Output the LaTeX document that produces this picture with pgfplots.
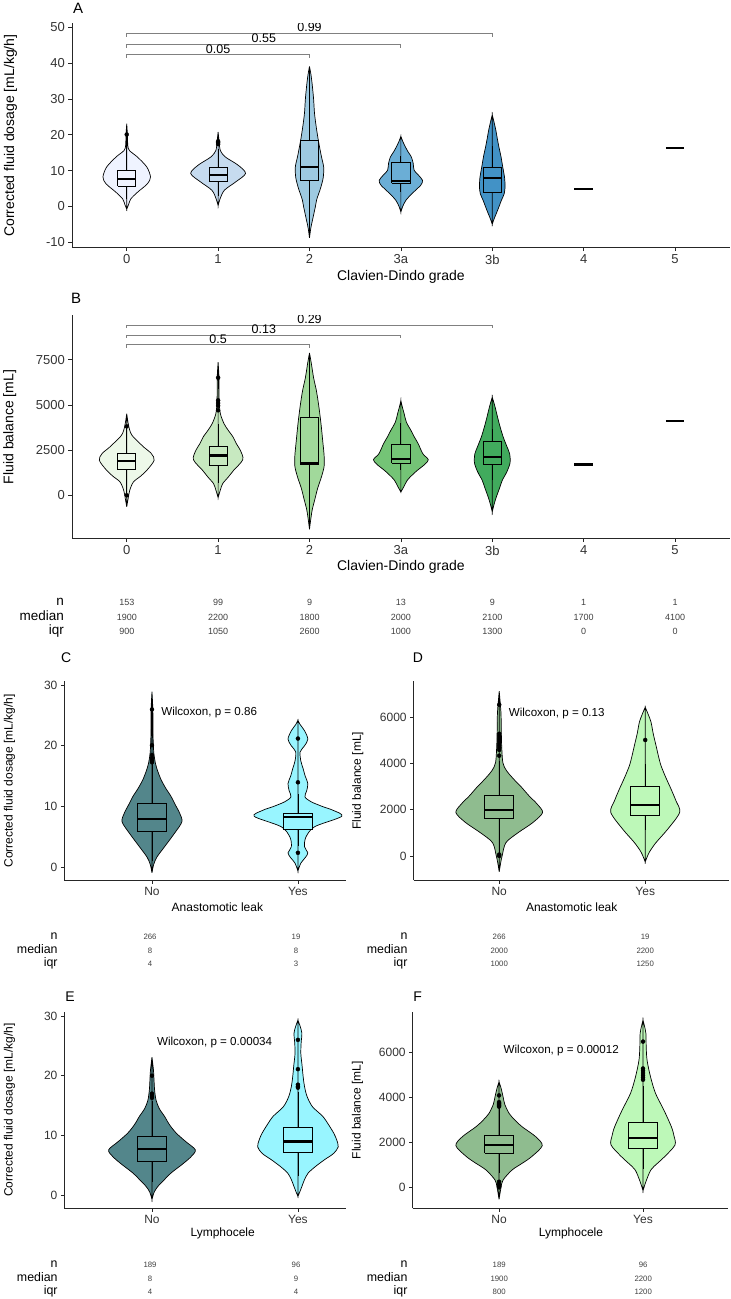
\documentclass[border=0pt]{standalone}
\usepackage{fontspec}
\setmainfont{Liberation Sans}
\usepackage{pgfplots}
\pgfplotsset{compat=1.18}
\usepgfplotslibrary{fillbetween}
\usepackage{pgfplotstable}

\newcommand{\fs}[1]{\fontsize{#1}{#1}\selectfont}

% Blues for panel A, Greens for panel B
\definecolor{bl0}{HTML}{EFF3FF}
\definecolor{bl1}{HTML}{C6DBEF}
\definecolor{bl2}{HTML}{9ECAE1}
\definecolor{bl3}{HTML}{6BAED6}
\definecolor{bl4}{HTML}{4292C6}
\definecolor{gr0}{HTML}{EDF8E9}
\definecolor{gr1}{HTML}{C7E9C0}
\definecolor{gr2}{HTML}{A1D99B}
\definecolor{gr3}{HTML}{74C476}
\definecolor{gr4}{HTML}{41AB5D}
% two-group panels
\definecolor{tealNo}{HTML}{53868B}
\definecolor{tealYes}{HTML}{98F5FF}
\definecolor{sageNo}{HTML}{8FBC8F}
\definecolor{sageYes}{HTML}{BDF8B8}

% violin outlines: y value and half-width (category units)
\pgfplotstableread{
y w
-0.8 0
0.5 0.02
2.1 0.045
4.0 0.12
6.3 0.226
8.2 0.26
11.0 0.22
13.8 0.117
15.6 0.03
17.0 0.012
20 0.008
23.1 0
}\vAa
\pgfplotstableread{
y w
0.2 0
2.0 0.02
4.5 0.068
6.8 0.19
9.2 0.30
11.5 0.22
13.8 0.08
15.6 0.025
18 0.012
20.8 0
}\vAb
\pgfplotstableread{
y w
-8.8 0
-6 0.015
-3 0.04
0 0.065
2 0.08
5 0.12
8 0.15
11 0.155
14 0.13
18 0.10
22 0.075
26 0.055
30 0.045
34 0.03
37 0.015
39.1 0
}\vAc
\pgfplotstableread{
y w
-1.6 0
0 0.02
1.7 0.055
3.0 0.10
4.5 0.16
6.0 0.22
7.3 0.237
8.8 0.19
10.1 0.145
12.0 0.135
13.8 0.115
15.2 0.08
16.6 0.05
18.2 0.02
19.6 0
}\vAd
\pgfplotstableread{
y w
-5.0 0
-3.5 0.02
-2.0 0.044
0 0.075
1.7 0.10
3.5 0.13
5.4 0.14
8.0 0.135
11.0 0.115
14.0 0.095
16.6 0.073
19.0 0.055
21.2 0.04
23.5 0.02
25.6 0
}\vAe
\pgfplotstableread{
y w
-640 0
-200 0.015
276 0.033
737 0.073
1050 0.15
1382 0.22
1934 0.30
2303 0.27
2650 0.19
2947 0.128
3300 0.06
3592 0.033
4000 0.015
4514 0
}\vBa
\pgfplotstableread{
y w
-130 0
300 0.025
645 0.05
1000 0.11
1380 0.17
1970 0.27
2480 0.244
2850 0.20
3220 0.164
3600 0.11
3960 0.065
4510 0.025
5200 0.012
6500 0.01
7360 0
}\vBb
\pgfplotstableread{
y w
-1880 0
-1400 0.012
-800 0.03
-200 0.06
400 0.09
1000 0.13
1600 0.16
2200 0.16
3000 0.145
4000 0.125
5000 0.10
5800 0.075
6500 0.045
7300 0.02
7870 0
}\vBc
\pgfplotstableread{
y w
180 0
500 0.035
830 0.07
1100 0.12
1380 0.18
1700 0.26
1970 0.30
2300 0.24
2850 0.19
3200 0.15
3590 0.11
4050 0.06
4510 0.036
4900 0.015
5240 0
}\vBd
\pgfplotstableread{
y w
-920 0
-500 0.02
-90 0.045
400 0.08
830 0.11
1300 0.16
1800 0.195
2300 0.19
2700 0.16
3220 0.12
3800 0.085
4320 0.058
4900 0.03
5430 0
}\vBe
\pgfplotstableread{
y w
-0.9 0
0.5 0.012
1.7 0.034
3.4 0.086
5.6 0.154
7.5 0.205
8.9 0.19
10.3 0.16
11.7 0.13
13.0 0.095
14.4 0.063
15.8 0.04
17.1 0.024
19.0 0.012
22 0.007
26 0.006
28.9 0
}\vCno
\pgfplotstableread{
y w
-0.6 0
0.7 0.02
1.6 0.05
2.4 0.068
3.4 0.045
5.0 0.055
6.7 0.115
8.4 0.30
9.4 0.24
10.0 0.17
10.8 0.09
11.6 0.048
12.6 0.06
13.8 0.068
15.0 0.05
16.3 0.035
17.5 0.02
19.0 0.015
20.0 0.045
21.1 0.068
22.5 0.045
23.5 0.015
24.2 0
}\vCyes
\pgfplotstableread{
y w
-690 0
-300 0.01
0 0.02
578 0.046
1012 0.13
1446 0.23
1880 0.297
2250 0.26
2602 0.205
3000 0.15
3325 0.10
3700 0.05
4047 0.025
4770 0.017
5500 0.014
6215 0.012
7153 0
}\vDno
\pgfplotstableread{
y w
-260 0
150 0.027
580 0.074
1160 0.154
1890 0.236
2400 0.21
2900 0.177
3420 0.14
3920 0.108
4350 0.09
4790 0.074
5300 0.055
5800 0.04
6150 0.02
6450 0
}\vDyes
\pgfplotstableread{
y w
-0.7 0
0.5 0.015
1.45 0.04
2.6 0.085
3.7 0.13
5.35 0.217
6.5 0.27
7.6 0.297
9.0 0.23
10.4 0.166
11.8 0.12
13.2 0.086
14.5 0.05
15.9 0.028
17.6 0.018
19.3 0.014
21 0.01
23.1 0
}\vEno
\pgfplotstableread{
y w
-0.2 0
0.5 0.012
1.45 0.027
2.6 0.045
3.7 0.07
4.8 0.12
5.9 0.18
7.0 0.245
8.1 0.276
9.3 0.265
10.4 0.245
11.8 0.21
13.2 0.17
14.8 0.10
16.5 0.063
18.2 0.045
19.8 0.036
21.8 0.028
23.7 0.02
25.5 0.022
27.1 0.027
28.3 0.015
29.3 0
}\vEyes
\pgfplotstableread{
y w
-536 0
0 0.014
327 0.028
772 0.09
1070 0.16
1367 0.226
1857 0.30
2258 0.255
2703 0.16
3000 0.11
3297 0.07
3700 0.04
4040 0.028
4400 0.015
4709 0
}\vFno
\pgfplotstableread{
y w
-150 0
252 0.02
772 0.054
1070 0.1
1367 0.15
1886 0.222
2300 0.215
2703 0.197
3446 0.145
4189 0.087
4932 0.052
5675 0.028
6300 0.022
6864 0.02
7200 0.01
7458 0
}\vFyes

% violin: #1 path name, #2 centre, #3 table, #4 fill colour
\newcommand{\violin}[4]{%
  \addplot[draw=none, smooth, name path=#1L] table[x expr=#2-\thisrow{w}, y=y] {#3};
  \addplot[draw=none, smooth, name path=#1R] table[x expr=#2+\thisrow{w}, y=y] {#3};
  \addplot[fill=#4, draw=black, line width=0.7pt] fill between[of=#1L and #1R];
}
% box: #1 centre, #2 lower whisker, #3 lower quartile, #4 median,
%      #5 upper quartile, #6 upper whisker, #7 fill colour
\newcommand{\bxp}[7]{%
  \addplot[black, line width=0.75pt] table[row sep=\\, x expr=#1, y=v] {v\\ #2\\ #6\\};
  \addplot[fill=#7, draw=black, line width=0.75pt] table[row sep=\\, x expr=#1+\thisrow{d}, y=v]
    {d v\\ -0.1 #3\\ 0.1 #3\\ 0.1 #5\\ -0.1 #5\\ -0.1 #3\\};
  \addplot[black, line width=2.2pt] table[row sep=\\, x expr=#1+\thisrow{d}, y=v]
    {d v\\ -0.1 #4\\ 0.1 #4\\};
}

\pgfplotsset{
  panel/.style={
    scale only axis, anchor=south west,
    axis x line=bottom, axis y line=left,
    axis line style={-, line width=0.75pt, black!85},
    tick align=outside, major tick length=3.5pt,
    tick style={line width=0.7pt, black!85},
    ticklabel style={text=black!80},
    xlabel style={anchor=center}, ylabel style={anchor=center},
  },
  outl/.style={only marks, mark=*, mark size=2pt, black},
  bracket/.style={black!50, line width=0.75pt},
}

\begin{document}
\begin{tikzpicture}

% ---------------- A ----------------
\begin{axis}[panel, at={(70.8pt,1051.7pt)}, width=658.2pt, height=224.3pt,
  xmin=-0.6, xmax=6.6, ymin=-11.54, ymax=51.12,
  xtick={0,...,6}, xticklabels={0,1,2,3a,3b,4,5},
  ytick={-10,0,...,50}, yticklabels={-10,0,10,20,30,40,50},
  ticklabel style={font=\fs{13}},
  label style={font=\fs{14}},
  xlabel={Clavien-Dindo grade}, ylabel={Corrected fluid dosage [mL/kg/h]},
  xlabel style={at={(axis description cs:0.5,-0.128)}},
  ylabel style={at={(axis description cs:-0.0934,0.5)}},
]
\violin{Aa}{0}{\vAa}{bl0}
\violin{Ab}{1}{\vAb}{bl1}
\violin{Ac}{2}{\vAc}{bl2}
\violin{Ad}{3}{\vAd}{bl3}
\violin{Ae}{4}{\vAe}{bl4}
\bxp{0}{2.0}{5.7}{7.6}{10.0}{17.5}{bl0}
\bxp{1}{3.0}{7.0}{8.85}{10.8}{16.0}{bl1}
\bxp{2}{4.3}{7.3}{11.0}{18.4}{25.9}{bl2}
\bxp{3}{4.0}{6.5}{7.0}{12.2}{14.0}{bl3}
\bxp{4}{3.7}{4.0}{8.0}{11.0}{17.0}{bl4}
\addplot[outl] coordinates {(0,20.1) (1,17.4) (1,17.8) (1,18.2)};
\addplot[black, line width=2.2pt] coordinates {(4.9,4.75) (5.1,4.75)};
\addplot[black, line width=2.2pt] coordinates {(5.9,16.4) (6.1,16.4)};
\addplot[bracket] coordinates {(0,41.5) (0,42.4) (2,42.4) (2,41.5)};
\addplot[bracket] coordinates {(0,44.4) (0,45.3) (3,45.3) (3,44.4)};
\addplot[bracket] coordinates {(0,47.4) (0,48.3) (4,48.3) (4,47.4)};
\node[font=\fs{12.5}] at (axis cs:1,44.0) {0.05};
\node[font=\fs{12.5}] at (axis cs:1.5,47.1) {0.55};
\node[font=\fs{12.5}] at (axis cs:2,50.1) {0.99};
\end{axis}

% ---------------- B ----------------
\begin{axis}[panel, at={(70.8pt,760.7pt)}, width=658.2pt, height=223.3pt,
  xmin=-0.6, xmax=6.6, ymin=-2393, ymax=9949,
  xtick={0,...,6}, xticklabels={0,1,2,3a,3b,4,5},
  ytick={0,2500,5000,7500}, yticklabels={0,2500,5000,7500},
  ticklabel style={font=\fs{13}},
  label style={font=\fs{14}},
  xlabel={Clavien-Dindo grade}, ylabel={Fluid balance [mL]},
  xlabel style={at={(axis description cs:0.5,-0.127)}},
  ylabel style={at={(axis description cs:-0.0943,0.5)}},
]
\violin{Ba}{0}{\vBa}{gr0}
\violin{Bb}{1}{\vBb}{gr1}
\violin{Bc}{2}{\vBc}{gr2}
\violin{Bd}{3}{\vBd}{gr3}
\violin{Be}{4}{\vBe}{gr4}
\bxp{0}{100}{1420}{1900}{2320}{3700}{gr0}
\bxp{1}{700}{1670}{2200}{2720}{3950}{gr1}
\bxp{2}{1010}{1710}{1800}{4290}{4970}{gr2}
\bxp{3}{1400}{1780}{2000}{2815}{3990}{gr3}
\bxp{4}{830}{1690}{2100}{3000}{3680}{gr4}
\addplot[outl] coordinates {(0,3810) (0,0) (1,4700) (1,4950) (1,5100) (1,5250) (1,6500)};
\addplot[black, line width=2.2pt] coordinates {(4.9,1700) (5.1,1700)};
\addplot[black, line width=2.2pt] coordinates {(5.9,4100) (6.1,4100)};
\addplot[bracket] coordinates {(0,8150) (0,8320) (2,8320) (2,8150)};
\addplot[bracket] coordinates {(0,8700) (0,8870) (3,8870) (3,8700)};
\addplot[bracket] coordinates {(0,9250) (0,9420) (4,9420) (4,9250)};
\node[font=\fs{12.5}] at (axis cs:1,8650) {0.5};
\node[font=\fs{12.5}] at (axis cs:1.5,9200) {0.13};
\node[font=\fs{12.5}] at (axis cs:2,9750) {0.29};
\end{axis}

% ---------------- C ----------------
\begin{axis}[panel, at={(63.3pt,419pt)}, width=281.8pt, height=198.8pt,
  xmin=0.4, xmax=2.33, ymin=-2.1, ymax=30.6,
  xtick={1,2}, xticklabels={No,Yes},
  ytick={0,10,20,30}, yticklabels={0,10,20,30},
  ticklabel style={font=\fs{12}},
  label style={font=\fs{12}},
  xlabel={Anastomotic leak}, ylabel={Corrected fluid dosage [mL/kg/h]},
  xlabel style={at={(axis description cs:0.543,-0.134)}},
  ylabel style={at={(axis description cs:-0.195,0.5)}},
]
\violin{Ca}{1}{\vCno}{tealNo}
\violin{Cb}{2}{\vCyes}{tealYes}
\bxp{1}{1.0}{6.0}{7.9}{10.5}{17.0}{tealNo}
\bxp{2}{3.5}{6.3}{8.3}{8.9}{12.0}{tealYes}
\addplot[outl] coordinates {(1,26.0) (1,20.1) (1,18.5) (1,18.0) (1,17.6) (1,17.3) (2,21.2) (2,14.0) (2,2.4)};
\node[font=\fs{11.6}] at (axis cs:1.392,25.5) {Wilcoxon, p = 0.86};
\end{axis}

% ---------------- D ----------------
\begin{axis}[panel, at={(412.7pt,419pt)}, width=315.6pt, height=198.9pt,
  xmin=0.414, xmax=2.575, ymin=-1050, ymax=7574,
  xtick={1,2}, xticklabels={No,Yes},
  ytick={0,2000,4000,6000}, yticklabels={0,2000,4000,6000},
  ticklabel style={font=\fs{12}},
  label style={font=\fs{12}},
  xlabel={Anastomotic leak}, ylabel={Fluid balance [mL]},
  xlabel style={at={(axis description cs:0.501,-0.137)}},
  ylabel style={at={(axis description cs:-0.177,0.5)}},
]
\violin{Da}{1}{\vDno}{sageNo}
\violin{Db}{2}{\vDyes}{sageYes}
\bxp{1}{110}{1610}{2000}{2610}{4100}{sageNo}
\bxp{2}{1130}{1740}{2200}{3020}{3990}{sageYes}
\addplot[outl] coordinates {(1,6560) (1,5300) (1,5200) (1,5100) (1,5000) (1,4900) (1,4800) (1,4700) (1,4600) (1,4350) (1,60) (1,0) (2,5030)};
\node[font=\fs{11.6}] at (axis cs:1.394,6173) {Wilcoxon, p = 0.13};
\end{axis}

% ---------------- E ----------------
\begin{axis}[panel, at={(63.3pt,90.7pt)}, width=281.8pt, height=196.6pt,
  xmin=0.4, xmax=2.33, ymin=-2.2, ymax=30.7,
  xtick={1,2}, xticklabels={No,Yes},
  ytick={0,10,20,30}, yticklabels={0,10,20,30},
  ticklabel style={font=\fs{12}},
  label style={font=\fs{12}},
  xlabel={Lymphocele}, ylabel={Corrected fluid dosage [mL/kg/h]},
  xlabel style={at={(axis description cs:0.562,-0.127)}},
  ylabel style={at={(axis description cs:-0.195,0.5)}},
]
\violin{Ea}{1}{\vEno}{tealNo}
\violin{Eb}{2}{\vEyes}{tealYes}
\bxp{1}{2.2}{5.7}{7.7}{9.9}{15.8}{tealNo}
\bxp{2}{3.2}{7.1}{9.0}{11.3}{17.2}{tealYes}
\addplot[outl] coordinates {(1,20.0) (1,17.0) (1,16.8) (1,16.5) (1,16.3) (2,26.0) (2,21.1) (2,18.5) (2,18.2) (2,18.0)};
\node[font=\fs{11.6}] at (axis cs:1.429,25.6) {Wilcoxon, p = 0.00034};
\end{axis}

% ---------------- F ----------------
\begin{axis}[panel, at={(411.7pt,90.7pt)}, width=315.4pt, height=196.6pt,
  xmin=0.4, xmax=2.59, ymin=-936, ymax=7828,
  xtick={1,2}, xticklabels={No,Yes},
  ytick={0,2000,4000,6000}, yticklabels={0,2000,4000,6000},
  ticklabel style={font=\fs{12}},
  label style={font=\fs{12}},
  xlabel={Lymphocele}, ylabel={Fluid balance [mL]},
  xlabel style={at={(axis description cs:0.502,-0.127)}},
  ylabel style={at={(axis description cs:-0.175,0.5)}},
]
\violin{Fa}{1}{\vFno}{sageNo}
\violin{Fb}{2}{\vFyes}{sageYes}
\bxp{1}{640}{1510}{1900}{2320}{3550}{sageNo}
\bxp{2}{840}{1730}{2200}{2900}{4500}{sageYes}
\addplot[outl] coordinates {(1,4100) (1,3800) (1,3750) (1,3700) (1,3650) (1,3600) (1,250) (1,150) (1,50) (1,0) (2,6500) (2,5300) (2,5200) (2,5100) (2,5000) (2,4900) (2,4800)};
\node[font=\fs{11.6}] at (axis cs:1.432,6121) {Wilcoxon, p = 0.00012};
\end{axis}

% panel letters
\node[font=\fs{15}] at (77pt,1291pt) {A};
\node[font=\fs{15}] at (75pt,1000.7pt) {B};
\node[font=\fs{14}] at (65pt,642pt) {C};
\node[font=\fs{14}] at (417pt,642pt) {D};
\node[font=\fs{14}] at (69pt,302.3pt) {E};
\node[font=\fs{14}] at (416.7pt,302.3pt) {F};

% summary tables
\tikzset{rowlab/.style={anchor=east, text height=0.72em, text depth=0.2em, inner sep=0pt},
         cell/.style={text=black!75, text height=0.72em, text depth=0.2em, inner sep=0pt}}
\node[rowlab, font=\fs{13.5}] at (62.9pt,696pt) {n};
\node[rowlab, font=\fs{13.5}] at (62.9pt,681pt) {median};
\node[rowlab, font=\fs{13.5}] at (62.9pt,667pt) {iqr};
\foreach \x/\n/\m/\q in {125.8/153/1900/900, 217.2/99/2200/1050, 308.6/9/1800/2600,
    400.0/13/2000/1000, 491.4/9/2100/1300, 582.8/1/1700/0, 674.2/1/4100/0} {
  \node[cell, font=\fs{9}] at (\x pt,696pt) {\n};
  \node[cell, font=\fs{9}] at (\x pt,681pt) {\m};
  \node[cell, font=\fs{9}] at (\x pt,667pt) {\q};
}
\foreach \lx/\yy in {56.7/362, 406.7/362, 56.7/34, 406.7/34} {
  \node[rowlab, font=\fs{12.4}] at (\lx pt,\yy pt) {n};
  \node[rowlab, font=\fs{12.4}] at (\lx pt,\yy pt-13.7pt) {median};
  \node[rowlab, font=\fs{12.4}] at (\lx pt,\yy pt-27pt) {iqr};
}
\foreach \x/\y/\t in {149/362/266, 149/348.3/8, 149/335/4, 295/362/19, 295/348.3/8, 295/335/3,
    498.3/362/266, 498.3/348.3/2000, 498.3/335/1000, 644.3/362/19, 644.3/348.3/2200, 644.3/335/1250,
    149/34/189, 149/20.3/8, 149/7/4, 295/34/96, 295/20.3/9, 295/7/4,
    498.3/34/189, 498.3/20.3/1900, 498.3/7/800, 642.3/34/96, 642.3/20.3/2200, 642.3/7/1200} {
  \node[cell, font=\fs{7.8}] at (\x pt,\y pt) {\t};
}

% page frame
\path (0,0) rectangle (730pt,1299pt);
\end{tikzpicture}
\end{document}
